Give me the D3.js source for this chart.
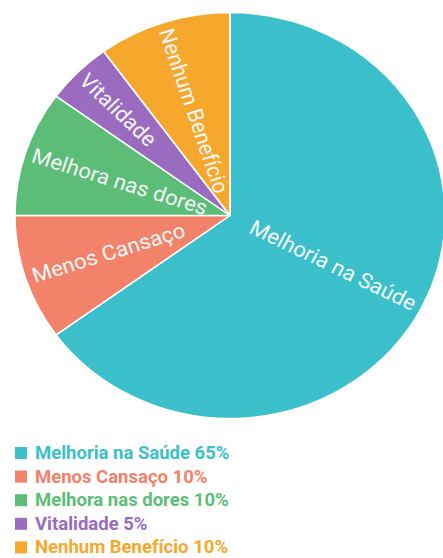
<!DOCTYPE html>
<html>
<head>
<meta charset="utf-8">
<script src="https://cdn.jsdelivr.net/npm/d3@7"></script>
<style>
  html, body { margin: 0; padding: 0; background: #ffffff; }
  svg { display: block; }
</style>
</head>
<body>
<svg id="chart" width="443" height="558"></svg>
<script>
// Respostas sobre os benefícios percebidos
const categories = ["Melhoria na Saúde", "Menos Cansaço", "Melhora nas dores", "Vitalidade", "Nenhum Benefício"];
const percentages = [65, 10, 10, 5, 10];
const colors = ["#3bbfca", "#f2826a", "#5cbd77", "#9a6cbf", "#f5a82c"];

const data = categories.map((c, i) => ({ label: c, value: percentages[i], color: colors[i] }));

const svg = d3.select("#chart");

// Pie geometry (slightly wider than tall)
const cx = 230, cy = 215.5, r = 203, sx = 215 / 203;

const pie = d3.pie().sort(null).value(d => d.value).startAngle(0).endAngle(2 * Math.PI);
const arc = d3.arc().innerRadius(0).outerRadius(r);

const g = svg.append("g").attr("transform", `translate(${cx},${cy}) scale(${sx},1)`);

const arcs = pie(data);

g.selectAll("path.slice")
  .data(arcs)
  .join("path")
  .attr("class", "slice")
  .attr("d", arc)
  .attr("fill", d => d.data.color)
  .attr("stroke", "#ffffff")
  .attr("stroke-width", 1.5)
  .attr("stroke-linejoin", "round");

// Radial labels, anchored near the rim and running toward the centre
const labelR = r - 7;
g.selectAll("text.slice-label")
  .data(arcs)
  .join("text")
  .attr("class", "slice-label")
  .each(function(d) {
    const a = (d.startAngle + d.endAngle) / 2;
    const x = Math.sin(a) * labelR;
    const y = -Math.cos(a) * labelR;
    const deg = a * 180 / Math.PI;
    const right = a < Math.PI;
    const rot = right ? deg - 90 : deg + 90;
    d3.select(this)
      .attr("transform", `translate(${x},${y}) rotate(${rot})`)
      .attr("text-anchor", right ? "end" : "start");
  })
  .attr("dominant-baseline", "central")
  .attr("font-family", "Roboto, 'Noto Sans', sans-serif")
  .attr("font-size", 21)
  .attr("fill", "#f3f6f6")
  .text(d => d.data.label);

// Legend
const legend = svg.append("g").attr("transform", "translate(15,453)");
const rowH = 23.6;
const rows = legend.selectAll("g.row")
  .data(data)
  .join("g")
  .attr("class", "row")
  .attr("transform", (d, i) => `translate(0,${i * rowH})`);

rows.append("rect")
  .attr("x", 0).attr("y", -6)
  .attr("width", 12).attr("height", 12)
  .attr("fill", d => d.color);

rows.append("text")
  .attr("x", 20).attr("y", 0)
  .attr("dominant-baseline", "central")
  .attr("font-family", "Roboto, 'Noto Sans', sans-serif")
  .attr("font-weight", "bold")
  .attr("font-size", 18.5)
  .attr("fill", d => d.color)
  .text(d => `${d.label} ${d.value}%`);
</script>
</body>
</html>
